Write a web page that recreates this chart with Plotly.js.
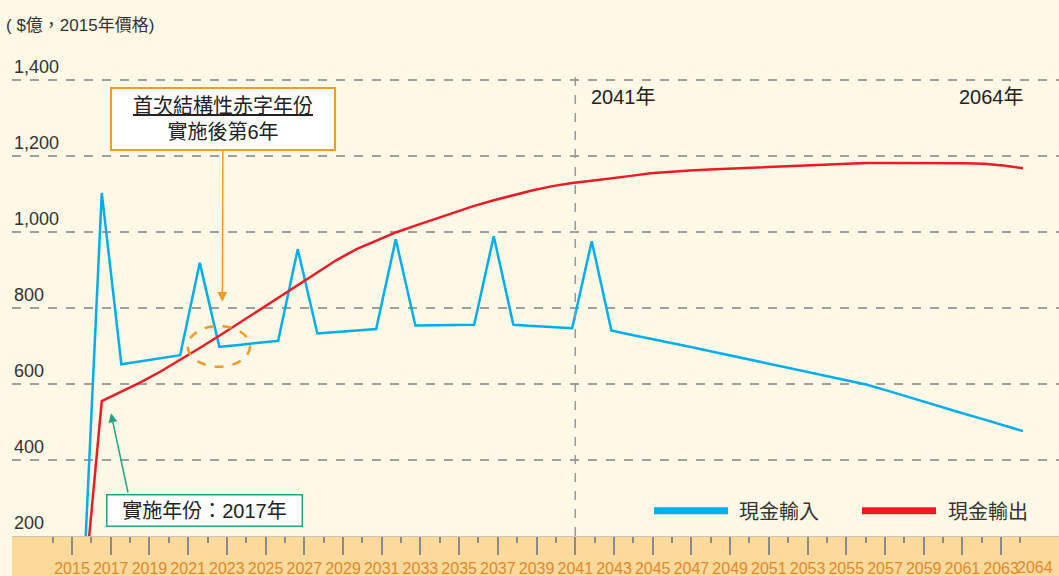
<!DOCTYPE html>
<html>
<head>
<meta charset="utf-8">
<script src="https://cdn.plot.ly/plotly-3.0.1.min.js"></script>
<style>
html, body { margin: 0; padding: 0; background: #fef8e6; }
#chart { width: 1059px; height: 576px; }
</style>
</head>
<body>
<div id="chart"></div>
<script>
// 2016 - 2064
const years = Array.from({length: 49}, (_, i) => 2016 + i);

// 現金輸入 ($億)
const cashIn = [
  0, 1103, 652, 660, 668, 676, 919, 698, 703, 709,
  714, 955, 733, 737, 741, 745, 981, 754, 755, 755,
  756, 989, 756, 753, 750, 747, 976, 741, 730, 720,
  709, 698, 687, 676, 665, 654, 643, 632, 621, 610,
  599, 584, 568, 553, 537, 522, 507, 491, 476
];

// 現金輸出 ($億)
const cashOut = [
  0, 555, 580, 605, 633, 663, 695, 727, 760, 793,
  827, 860, 893, 927, 955, 977, 999, 1017, 1035, 1052,
  1069, 1084, 1098, 1110, 1121, 1129, 1135, 1141, 1148, 1155,
  1159, 1162, 1165, 1167, 1169, 1171, 1173, 1176, 1178, 1180,
  1182, 1182, 1182, 1182, 1182, 1181, 1180, 1175, 1168
];

const yTicks = [200, 400, 600, 800, 1000, 1200, 1400];
const majorYears = [];
for (let y = 2015; y <= 2063; y += 2) majorYears.push(y);
const minorYears = [];
for (let y = 2014; y <= 2064; y += 2) minorYears.push(y);

const seriesNames = ["現金輸入", "現金輸出"];
const colors = ["#00aeef", "#ed1c24"];

const FONT = "Liberation Sans, Noto Sans CJK TC, sans-serif";
const NARROW = "Liberation Sans Narrow, Arial Narrow, Liberation Sans, sans-serif";
const ORANGE = "#f39a2b";
const TEAL = "#22a585";

// plot box in pixels, used to place the callouts
const L = 12, T = 79, W = 1047, H = 457;
function px(x){ return (x - L) / W; }
function py(y){ return (T + H - y) / H; }

const traces = [
  {x: years, y: cashIn, name: seriesNames[0], mode: "lines",
   line: {color: colors[0], width: 2.5}, hoverinfo: "x+y"},
  {x: years, y: cashOut, name: seriesNames[1], mode: "lines",
   line: {color: colors[1], width: 2.5}, hoverinfo: "x+y"},
  // dummy trace so the tick axis is drawn
  {x: [2015], y: [null], xaxis: "x2", yaxis: "y", mode: "lines",
   showlegend: false, hoverinfo: "skip"}
];

const annotations = [];

// y tick labels sit above their grid lines
yTicks.forEach(v => {
  annotations.push({
    xref: "paper", yref: "y", x: 0, y: v, xanchor: "left", yanchor: "bottom",
    yshift: 1, showarrow: false, text: v.toLocaleString("en-US"),
    font: {family: FONT, size: 18, color: "#333"}
  });
});

annotations.push(
  {xref: "paper", yref: "paper", x: px(4), y: py(26), xanchor: "left", yanchor: "middle",
   showarrow: false, text: "( $億，2015年價格)",
   font: {family: NARROW + ", Noto Sans CJK TC", size: 17, color: "#333"}},
  {xref: "paper", yref: "paper", x: px(589), y: py(97), xanchor: "left", yanchor: "middle",
   showarrow: false, text: "2041年", font: {family: FONT, size: 20, color: "#222"}},
  {xref: "paper", yref: "paper", x: px(1026), y: py(97), xanchor: "right", yanchor: "middle",
   showarrow: false, text: "2064年", font: {family: FONT, size: 20, color: "#222"}},
  // first structural deficit callout
  {xref: "paper", yref: "paper", x: px(222.3), y: py(301.7), ax: 0.7, ay: -183.2,
   showarrow: true, arrowhead: 2, arrowsize: 1.3, arrowwidth: 1.5, arrowcolor: ORANGE,
   text: "<u>首次結構性赤字年份</u><br>實施後第6年",
   width: 216, height: 54, borderpad: 3, borderwidth: 2, bordercolor: ORANGE,
   bgcolor: "#ffffff", font: {family: FONT, size: 20, color: "#222"}},
  // implementation year callout
  {xref: "paper", yref: "paper", x: px(204), y: py(510.5), xanchor: "center", yanchor: "middle",
   showarrow: false, text: "實施年份：2017年",
   width: 190, height: 26, borderpad: 2, borderwidth: 1.5, bordercolor: TEAL,
   bgcolor: "#ffffff", font: {family: FONT, size: 20, color: "#222"}},
  {xref: "paper", yref: "paper", x: px(111), y: py(413.3), ax: 17.3, ay: 80.7,
   showarrow: true, arrowhead: 2, arrowsize: 1.2, arrowwidth: 1.5, arrowcolor: TEAL, text: ""},
  // legend
  {xref: "paper", yref: "paper", x: px(737), y: py(511.7), xanchor: "left", yanchor: "middle",
   showarrow: false, text: seriesNames[0], font: {family: FONT, size: 20, color: "#333"}},
  {xref: "paper", yref: "paper", x: px(946), y: py(511.7), xanchor: "left", yanchor: "middle",
   showarrow: false, text: seriesNames[1], font: {family: FONT, size: 20, color: "#333"}},
  // last tick label squeezed at the right end
  {xref: "x2", yref: "paper", x: 2064.75, y: py(567), xanchor: "center", yanchor: "middle",
   showarrow: false, text: "2064", font: {family: NARROW, size: 16, color: "#e3892c"}}
);

const shapes = [
  // orange time band under the plot
  {type: "rect", xref: "paper", yref: "paper", x0: 0, x1: 1, y0: 0, y1: -0.1,
   fillcolor: "#fdd99b", line: {width: 0}, layer: "below"},
  // 2041 marker
  {type: "line", xref: "x2", yref: "paper", x0: 2041, x1: 2041, y0: 0, y1: 1.004,
   line: {color: "#999", width: 1.5, dash: "dash"}},
  // dashed ring round the crossing
  {type: "circle", xref: "paper", yref: "paper", x0: px(187.7), x1: px(250),
   y0: py(366.7), y1: py(326), line: {color: ORANGE, width: 2.5, dash: "dash"}},
  // legend swatches
  {type: "line", xref: "paper", yref: "paper", x0: px(654), x1: px(728),
   y0: py(510.7), y1: py(510.7), line: {color: colors[0], width: 7}},
  {type: "line", xref: "paper", yref: "paper", x0: px(862), x1: px(936),
   y0: py(510.7), y1: py(510.7), line: {color: colors[1], width: 7}}
];

const layout = {
  width: 1059, height: 576,
  margin: {l: L, r: 0, t: T, b: 576 - T - H, pad: 0},
  paper_bgcolor: "#fef8e6", plot_bgcolor: "#fef8e6",
  showlegend: false,
  font: {family: FONT, color: "#333"},
  xaxis: {range: [2012.42, 2065.84], showticklabels: false, ticks: "",
          showgrid: false, zeroline: false, showline: false, fixedrange: true},
  xaxis2: {overlaying: "x", anchor: "y", side: "bottom", range: [2011.90, 2065.99],
           tickmode: "array", tickvals: majorYears, ticktext: majorYears.map(String),
           ticks: "outside", ticklen: 18, tickwidth: 2, tickcolor: "#8a8a8a",
           minor: {tickmode: "array", tickvals: minorYears, ticks: "outside",
                   ticklen: 6, tickwidth: 2, tickcolor: "#8a8a8a", showgrid: false},
           showgrid: false, zeroline: false, showline: true, linecolor: "#cdc5b0",
           linewidth: 1, tickfont: {family: NARROW, size: 16, color: "#e3892c"}},
  yaxis: {range: [200, 1403], tickmode: "array", tickvals: yTicks.slice(1),
          showticklabels: false, ticks: "", showline: false, zeroline: false,
          showgrid: true, gridcolor: "#a0a0a0", griddash: "dash", gridwidth: 1.5},
  annotations: annotations,
  shapes: shapes
};

Plotly.newPlot("chart", traces, layout, {displayModeBar: false, staticPlot: true});
</script>
</body>
</html>
